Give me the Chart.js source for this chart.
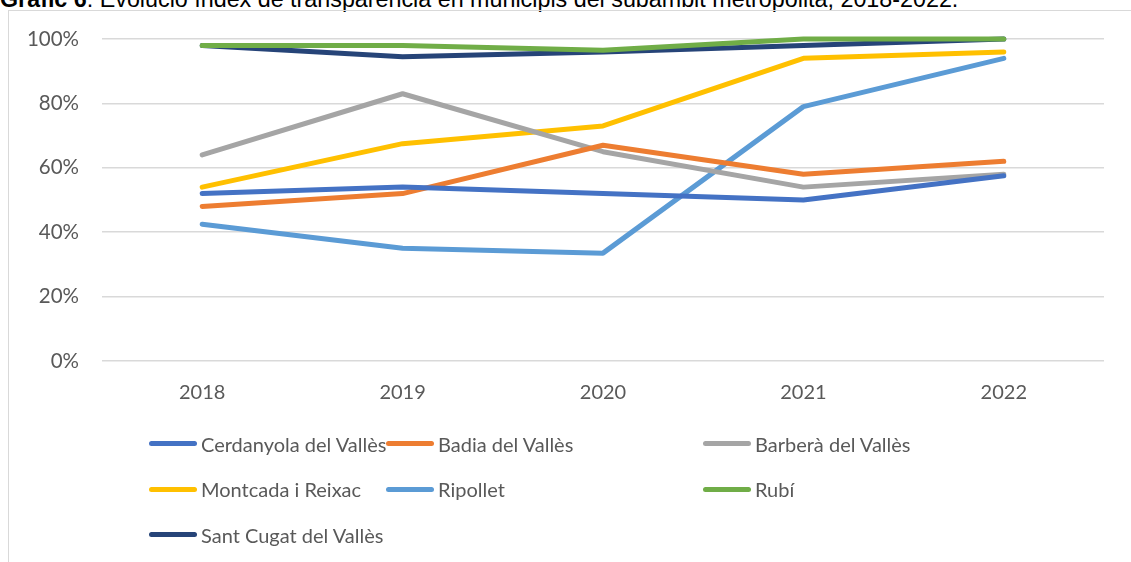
<!DOCTYPE html>
<html>
<head>
<meta charset="utf-8">
<script src="https://cdn.jsdelivr.net/npm/chart.js@4"></script>
<style>
  body { margin: 0; background: #fff; overflow: hidden; width: 1131px; height: 562px; position: relative; }
  #titol { position: absolute; left: 0; top: -12px; font: 23.3px "Liberation Sans", Arial, sans-serif; line-height: 23px; white-space: nowrap; color: #000; }
  #titol b { font-weight: bold; }
  #marc { position: absolute; left: 8px; top: 10px; width: 1200px; height: 600px; border: 1px solid #d9d9d9; }
  #caixa { position: absolute; left: 0; top: 0; width: 1131px; height: 562px; }
  #llegenda { position: absolute; left: 149px; top: 421px; display: grid; grid-template-columns: 237px 317px auto; grid-auto-rows: 45.5px; font: 20px Lato, sans-serif; color: #595959; }
  .item { display: flex; align-items: center; white-space: nowrap; }
  .mostra { flex: 0 0 48px; width: 48px; height: 5px; border-radius: 3px; margin-right: 4px; }
</style>
</head>
<body>
<div id="titol"><b>Gràfic 6</b>: Evolució índex de transparència en municipis del subàmbit metropolità, 2018-2022.</div>
<div id="marc"></div>
<div id="caixa"><canvas id="grafica"></canvas></div>
<div id="llegenda"></div>
<script>
const anys = ['2018', '2019', '2020', '2021', '2022'];
const ticksY = ['0%', '20%', '40%', '60%', '80%', '100%'];

const municipis = ['Cerdanyola del Vallès', 'Badia del Vallès', 'Barberà del Vallès',
  'Montcada i Reixac', 'Ripollet', 'Rubí', 'Sant Cugat del Vallès'];
const cerdanyola = [52, 54, 52, 50, 57.5];
const badia = [48, 52, 67, 58, 62];
const barbera = [64, 83, 65, 54, 58];
const montcada = [54, 67.5, 73, 94, 96];
const ripollet = [42.5, 35, 33.5, 79, 94];
const rubi = [98, 98, 96.5, 100, 100];
const santCugat = [98, 94.5, 96, 98, 100];

const colors = ['#4472C4', '#ED7D31', '#A5A5A5', '#FFC000', '#5B9BD5', '#70AD47', '#264478'];
const valors = [cerdanyola, badia, barbera, montcada, ripollet, rubi, santCugat];

const ctx = document.getElementById('grafica').getContext('2d');
let myChart = new Chart(ctx, {
  type: 'line',
  data: {
    labels: anys,
    datasets: municipis.map((nom, i) => ({
      label: nom,
      data: valors[i],
      borderColor: colors[i],
      backgroundColor: colors[i],
      borderWidth: 5,
      borderCapStyle: 'round',
      borderJoinStyle: 'round',
      pointRadius: 0,
      tension: 0,
      clip: false
    }))
  },
  options: {
    responsive: true,
    maintainAspectRatio: false,
    animation: false,
    layout: { padding: { left: 0, right: 27, top: 39, bottom: 0 } },
    plugins: { legend: { display: false }, tooltip: { enabled: false } },
    scales: {
      x: {
        offset: true,
        grid: { display: false },
        border: { display: false },
        ticks: { color: '#595959', font: { family: 'Lato', size: 20 }, padding: 12 },
        afterFit: s => { s.height = 201; }
      },
      y: {
        min: 0,
        max: 100,
        grid: { color: '#d9d9d9', lineWidth: 1.5, drawTicks: false },
        border: { display: false },
        ticks: {
          stepSize: 20,
          color: '#595959',
          font: { family: 'Lato', size: 20.5 },
          padding: 23,
          callback: v => ticksY[v / 20]
        },
        afterFit: s => { s.width = 102; }
      }
    }
  }
});

// llegenda en tres columnes, com l'original
const llegenda = document.getElementById('llegenda');
myChart.data.datasets.forEach(d => {
  const el = document.createElement('div');
  el.className = 'item';
  el.innerHTML = '<span class="mostra" style="background:' + d.borderColor + '"></span>' + d.label;
  llegenda.appendChild(el);
});
</script>
</body>
</html>
